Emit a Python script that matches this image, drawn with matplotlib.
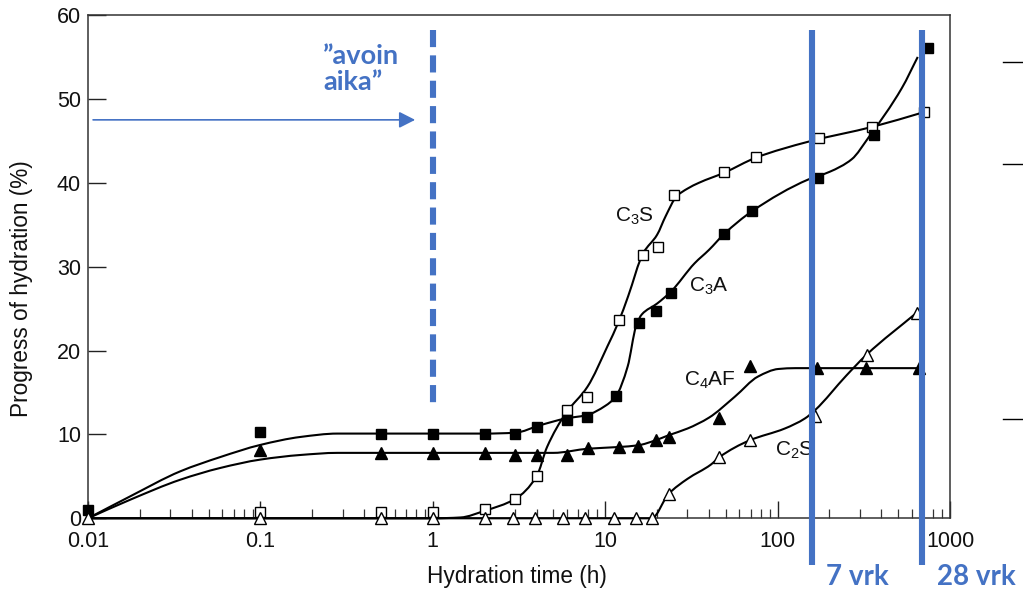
import matplotlib
matplotlib.use("Agg")
import numpy as np
import matplotlib.pyplot as plt
from matplotlib.ticker import LogLocator, NullFormatter, FixedLocator, FixedFormatter
from matplotlib.lines import Line2D
from matplotlib.path import Path
from matplotlib.patches import PathPatch

plt.rcParams['font.family'] = ['Liberation Sans', 'DejaVu Sans']
plt.rcParams['mathtext.fontset'] = 'custom'
plt.rcParams['mathtext.rm'] = 'Liberation Sans'
plt.rcParams['mathtext.it'] = 'Liberation Sans:italic'
plt.rcParams['mathtext.bf'] = 'Liberation Sans:bold'

# ---------------- data (hydration time in h, progress in %) ----------------
# measured points (markers)
c3s_t = [0.1, 0.5, 1, 2, 3, 4, 6, 7.8, 12, 16.5, 20.3, 25, 49, 75, 175, 355, 710]
c3s_p = [0.8, 0.8, 0.8, 1.1, 2.3, 5.0, 12.9, 14.5, 23.6, 31.4, 32.4, 38.6, 41.3, 43.1, 45.3, 46.7, 48.4]

c3a_t = [0.01, 0.1, 0.5, 1, 2, 3, 4, 6, 7.8, 11.5, 15.8, 19.8, 24, 49, 71, 172, 360, 750]
c3a_p = [1.0, 10.3, 10.1, 10.1, 10.1, 10.1, 10.9, 11.7, 12.1, 14.6, 23.3, 24.7, 26.8, 33.9, 36.6, 40.6, 45.7, 56.1]

c4af_t = [0.1, 0.5, 1, 2, 3, 4, 6, 8, 12, 15.5, 19.6, 23.3, 46, 69, 169, 325, 658]
c4af_p = [8.1, 7.8, 7.8, 7.8, 7.6, 7.6, 7.5, 8.4, 8.5, 8.6, 9.3, 9.7, 11.9, 18.2, 17.9, 17.9, 17.9]

c2s_t = [0.01, 0.1, 0.5, 1, 2, 2.9, 3.9, 5.7, 7.6, 11.2, 15, 18.6, 23.3, 46, 69, 165, 328, 640]
c2s_p = [0, 0, 0, 0, 0, 0, 0, 0, 0, 0, 0, 0, 2.9, 7.3, 9.3, 12.2, 19.5, 24.5]

# hand-drawn fitted curves (waypoints)
c3s_curve_t = [0.01, 1.0, 1.45, 2.0, 3.0, 4.0, 4.6, 5.9, 7.9, 10.3, 12.0, 13.6, 16.6, 20.0,
               22.4, 26.0, 30.0, 35.0, 49.0, 75.0, 151, 360, 700]
c3s_curve_p = [0, 0, 0.1, 0.9, 2.3, 5.0, 8.5, 12.5, 15.7, 20.5, 23.5, 26.5, 31.6, 33.8,
               36.0, 38.4, 39.3, 40.0, 41.2, 43.0, 44.9, 46.7, 48.4]

c3a_curve_t = [0.01, 0.0175, 0.0343, 0.0585, 0.1, 0.171, 0.28, 1, 2, 3, 4.2, 5.9, 7.8, 10,
               11.5, 13.5, 15.1, 16.3, 20, 24, 33, 40, 49, 71, 151, 200, 269, 337, 526, 650]
c3a_curve_p = [0, 2.6, 5.6, 7.3, 8.75, 9.7, 10.1, 10.1, 10.1, 10.2, 11.1, 11.9, 12.3, 13.4,
               14.5, 18.1, 22.9, 24.3, 25.6, 27.0, 30.4, 32.0, 33.9, 36.6, 40.4, 41.3, 42.8,
               45.4, 51.3, 55.0]

c4af_curve_t = [0.01, 0.0175, 0.0343, 0.0585, 0.1, 0.171, 0.28, 1, 5, 8, 12, 15.5, 19.6,
                23.3, 30, 40, 56.5, 77, 101, 127, 672]
c4af_curve_p = [0, 2.2, 4.6, 6.0, 7.0, 7.55, 7.8, 7.8, 7.8, 8.3, 8.5, 8.7, 9.3, 9.9, 10.7,
                12.0, 14.5, 16.9, 17.8, 17.9, 17.9]

c2s_curve_t = [0.01, 18.6, 23.3, 30, 41, 46, 69, 110, 144, 165, 250, 328, 640]
c2s_curve_p = [0, 0, 2.9, 4.7, 6.4, 7.3, 9.3, 10.7, 11.9, 12.9, 17.0, 19.5, 24.5]

x_ticks = [0.01, 0.1, 1, 10, 100, 1000]
x_tick_labels = ['0.01', '0.1', '1', '10', '100', '1000']
y_ticks = [0, 10, 20, 30, 40, 50, 60]

open_time_h = 1          # "avoin aika"
day7_h = 158             # 7 vrk line (as drawn)
day28_h = 690            # 28 vrk line (as drawn)

BLUE = '#4472C4'


def smooth_path(t, p):
    """Monotone cubic (Bezier) path through the waypoints, built in log-time space."""
    u = np.log10(np.asarray(t, float))
    y = np.asarray(p, float)
    h = np.diff(u)
    d = np.diff(y) / h
    n = len(u)
    m = np.zeros(n)
    m[0], m[-1] = d[0], d[-1]
    for k in range(1, n - 1):
        if d[k - 1] * d[k] <= 0:
            m[k] = 0.0
        else:
            w1 = 2 * h[k] + h[k - 1]
            w2 = h[k] + 2 * h[k - 1]
            m[k] = (w1 + w2) / (w1 / d[k - 1] + w2 / d[k])
    verts = [(10 ** u[0], y[0])]
    codes = [Path.MOVETO]
    for k in range(n - 1):
        c1 = (u[k] + h[k] / 3, y[k] + m[k] * h[k] / 3)
        c2 = (u[k + 1] - h[k] / 3, y[k + 1] - m[k + 1] * h[k] / 3)
        verts += [(10 ** c1[0], c1[1]), (10 ** c2[0], c2[1]), (10 ** u[k + 1], y[k + 1])]
        codes += [Path.CURVE4] * 3
    return Path(verts, codes)


# ---------------- figure ----------------
W, H = 1023, 595
fig = plt.figure(figsize=(W / 100, H / 100), dpi=100)
ax = fig.add_axes([88 / W, 1 - 518.3 / H, (950 - 88) / W, (518.3 - 15) / H])

ax.set_xscale('log')
ax.set_xlim(0.01, 1000)
ax.set_ylim(0, 60)

# curves
for t, p in [(c3s_curve_t, c3s_curve_p), (c3a_curve_t, c3a_curve_p),
             (c4af_curve_t, c4af_curve_p), (c2s_curve_t, c2s_curve_p)]:
    ax.add_patch(PathPatch(smooth_path(t, p), facecolor='none', edgecolor='black',
                           lw=1.5, zorder=3, clip_on=False))

# markers
ax.plot(c3s_t, c3s_p, ls='none', marker='s', ms=7, mfc='white', mec='black', mew=1.0,
        zorder=4, clip_on=False)
ax.plot(c3a_t, c3a_p, ls='none', marker='s', ms=7.5, mfc='black', mec='black', mew=1.0,
        zorder=4, clip_on=False)
ax.plot(c4af_t, c4af_p, ls='none', marker='^', ms=8, mfc='black', mec='black', mew=1.0,
        zorder=4, clip_on=False)
ax.plot(c2s_t, c2s_p, ls='none', marker='^', ms=8.5, mfc='white', mec='black', mew=1.0,
        zorder=4, clip_on=False)

# series labels
lab_kw = dict(fontsize=15, ha='center', va='center', color='#111111')
ax.text(14.7, 36.0, 'C$_3$S', **lab_kw)
ax.text(40.0, 27.6, 'C$_3$A', **lab_kw)
ax.text(40.5, 16.4, 'C$_4$AF', **lab_kw)
ax.text(126, 8.1, 'C$_2$S', **lab_kw)

# axes styling
ax.xaxis.set_major_locator(FixedLocator(x_ticks))
ax.xaxis.set_major_formatter(FixedFormatter(x_tick_labels))
ax.xaxis.set_minor_locator(LogLocator(base=10, subs=(2, 3, 4, 5, 6, 7, 8, 9), numticks=20))
ax.xaxis.set_minor_formatter(NullFormatter())
ax.set_yticks(y_ticks)
ax.tick_params(axis='x', which='major', direction='in', length=12, width=1.0, pad=9,
               labelsize=15.5, top=False, colors='#222222', labelcolor='#111111')
ax.tick_params(axis='x', which='minor', direction='in', length=6.5, width=0.9, top=False,
               colors='#333333')
ax.tick_params(axis='y', which='major', direction='in', length=13, width=1.0, pad=5,
               labelsize=15.5, right=False, colors='#222222', labelcolor='#111111')
for s in ax.spines.values():
    s.set_color('#333333')
    s.set_linewidth(1.1)

ax.set_xlabel('Hydration time (h)', fontsize=16.3, color='#111111', va='center')
ax.xaxis.set_label_coords((517 - 88) / 862, (518.3 - 577) / 503.3)
ax.set_ylabel('Progress of hydration (%)', fontsize=16.3, color='#111111',
              rotation=90, va='center', ha='center')
ax.yaxis.set_label_coords((22 - 88) / 862, (518.3 - 289) / 503.3)

# ---------------- blue annotations ----------------
ax.plot([open_time_h, open_time_h], [58.2, 13.6], color=BLUE, lw=4.4,
        linestyle=(0, (2.8, 1.35)), dash_capstyle='butt', zorder=5, clip_on=False)
ax.annotate('', xy=(0.79, 47.5), xytext=(0.0107, 47.5),
            arrowprops=dict(arrowstyle='-|>,head_length=0.65,head_width=0.33',
                            mutation_scale=15, color=BLUE, lw=1.2,
                            shrinkA=0, shrinkB=0), zorder=5)
for xv in (day7_h, day28_h):
    ax.plot([xv, xv], [-5.6, 58.2], color=BLUE, lw=4.4, solid_capstyle='butt',
            zorder=5, clip_on=False)

blue_kw = dict(color=BLUE, fontweight='bold', family=['Lato', 'DejaVu Sans'])
fig.text(323 / W, 1 - 44.5 / H, '\u201davoin\naika\u201d', ha='left', va='top',
         fontsize=19.5, linespacing=1.05, **blue_kw)
fig.text(826 / W, 1 - 577 / H, '7 vrk', ha='left', va='center', fontsize=20, **blue_kw)
fig.text(937 / W, 1 - 577 / H, '28 vrk', ha='left', va='center', fontsize=20, **blue_kw)

# stray tick marks at right edge of the slide
for yy in (62, 164, 419):
    fig.add_artist(Line2D([1003 / W, 1.0], [1 - yy / H, 1 - yy / H],
                          transform=fig.transFigure, color='black', lw=1.0))

fig.savefig('out.png', dpi=100)
